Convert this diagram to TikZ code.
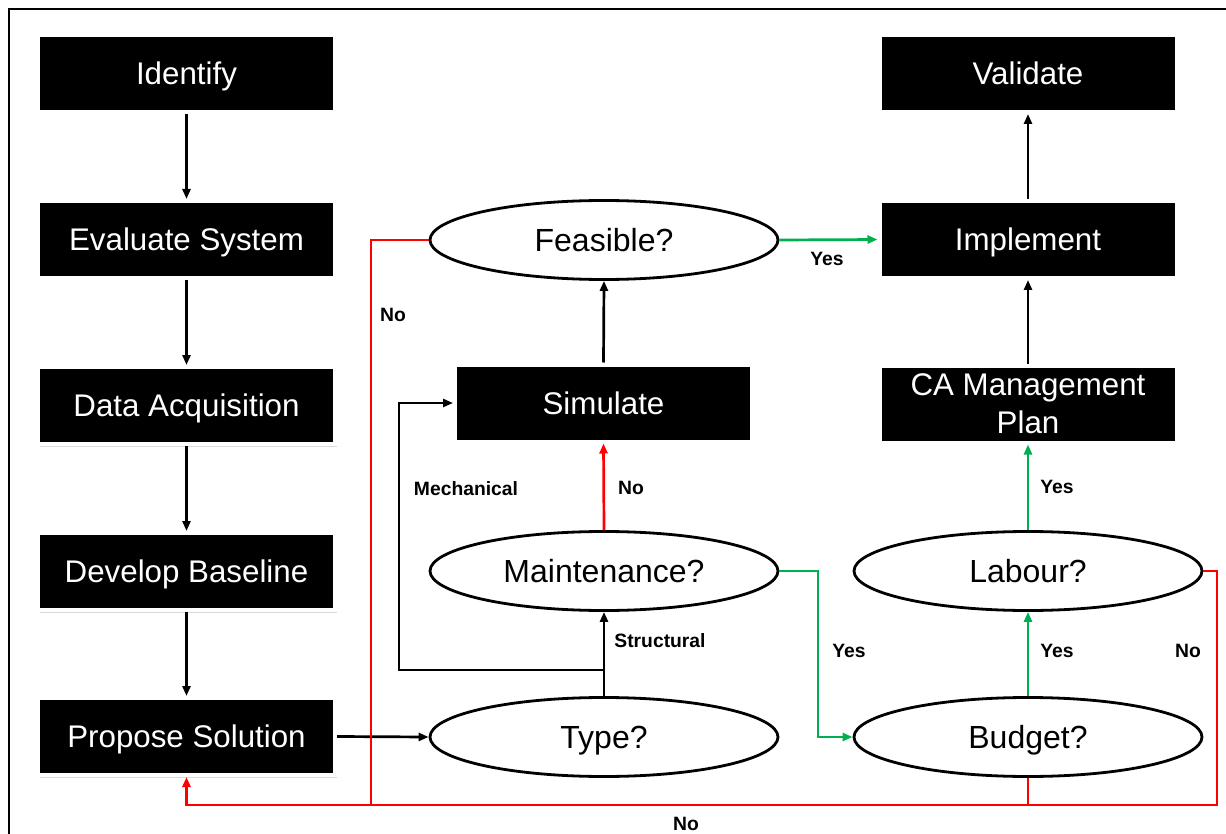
\documentclass[tikz,border=0pt]{standalone}
\usepackage{fontspec}
\setmainfont{Liberation Sans}
\usetikzlibrary{shapes.geometric,arrows.meta,shadows}
\definecolor{myred}{HTML}{FF0000}
\definecolor{mygreen}{HTML}{00B050}
\tikzset{
  boxbase/.style={rectangle, fill=black, draw=white, line width=4pt, minimum width=297pt, minimum height=77pt,
    text=white, font=\fontsize{31.3}{38}\selectfont, align=center, inner sep=0pt,
    drop shadow={shadow xshift=2pt, shadow yshift=-2.5pt, fill=black!18, opacity=0.8}},
  blackbox/.style={boxbase, text height=22.5pt, text depth=0pt},
  decision/.style={ellipse, draw=black, line width=2.8pt, fill=white, minimum width=348pt, minimum height=79pt,
    inner sep=0pt, font=\fontsize{32}{38}\selectfont, text height=23pt, text depth=0pt},
  conn/.style={line width=2.7pt, -{Triangle[length=10pt,width=8pt]}},
  plain/.style={line width=2.7pt},
  lbl/.style={font=\bfseries\fontsize{19.3}{23}\selectfont, inner sep=0pt},
}
\begin{document}
\begin{tikzpicture}[x=1pt,y=-1pt]
\useasboundingbox (0,0) rectangle (1226,834);
\fill[white] (0,0) rectangle (1226,834);
\draw[line width=2.5pt] (1226,9) -- (9,9) -- (9,834);

% left column
\node[blackbox] (idf) at (186.5,73.5) {Identify};
\node[blackbox] (eva) at (186.5,239.5) {Evaluate System};
\node[blackbox] (dat) at (186.5,405.5) {Data Acquisition};
\node[blackbox] (dev) at (186.5,571.5) {Develop Baseline};
\node[blackbox] (pro) at (186.5,736.5) {Propose Solution};

% right column
\node[blackbox] (val) at (1028,73.5) {Validate};
\node[blackbox] (imp) at (1028,239.5) {Implement};
\node[boxbase] (cap) at (1028,404) {CA Management\\Plan};

% middle
\node[blackbox] (sim) at (603.5,403) {Simulate};
\node[decision] (fea) at (604,240) {Feasible?};
\node[decision] (mai) at (604,571) {Maintenance?};
\node[decision] (typ) at (604,737) {Type?};
\node[decision] (lab) at (1028,571) {Labour?};
\node[decision] (bud) at (1028,737) {Budget?};

% left column arrows
\draw[conn] (idf) -- (eva);
\draw[conn] (eva) -- (dat);
\draw[conn] (dat) -- (dev);
\draw[conn] (dev) -- (pro);
\draw[conn] (pro.east) -- (typ.west);

% type branches
\coordinate (mj) at (604,670);
\coordinate (mc) at (399,670);
\draw[conn] (typ.north) -- (mai.south);
\draw[conn] (mj) -- (mc) |- (sim.west);
\draw[conn, myred] (mai.north) -- (sim.south);
\draw[conn] (sim.north) -- (fea.south);
\draw[conn, mygreen] (fea.east) -- (imp.west);

% feasible no
\coordinate (fl) at (371,805);
\draw[plain, myred] (fea.west) -| (fl);

% maintenance yes -> budget
\coordinate (gx) at (818,571);
\draw[conn, mygreen] (mai.east) -- (gx) |- (bud.west);
\draw[conn, mygreen] (bud.north) -- (lab.south);
\draw[conn, mygreen] (lab.north) -- (cap.south);
\draw[conn] (cap.north) -- (imp.south);
\draw[conn] (imp.north) -- (val.south);

% labour no / budget no
\coordinate (br) at (1217,805);
\draw[conn, myred] (lab.east) -| (br) -| (pro.south);
\draw[plain, myred] (bud.south) -- (bud.south |- br);

% labels
\node[lbl] (l1) at (393,315) {No};
\node[lbl] (l2) at (827,259) {Yes};
\node[lbl] (l3) at (466,489) {Mechanical};
\node[lbl] (l4) at (631,488) {No};
\node[lbl] (l5) at (660,641) {Structural};
\node[lbl] (l6) at (849,651) {Yes};
\node[lbl] (l7) at (1057,651) {Yes};
\node[lbl] (l8) at (1188,651) {No};
\node[lbl] (l9) at (1057,487) {Yes};
\node[lbl] (l10) at (686,824) {No};
\end{tikzpicture}
\end{document}
